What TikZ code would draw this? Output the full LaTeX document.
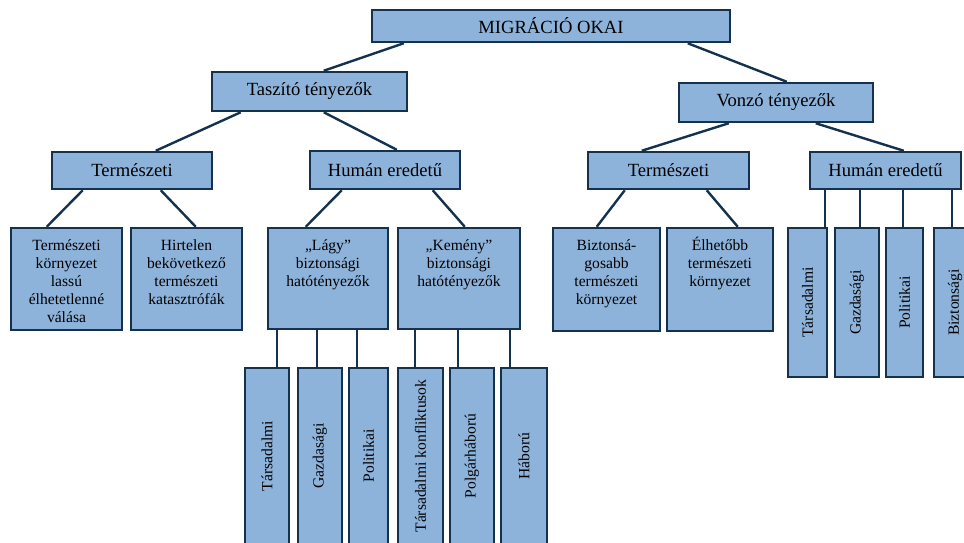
\documentclass[tikz,border=0pt]{standalone}
\usepackage{fontspec}
\setmainfont{Liberation Serif}
\definecolor{boxfill}{RGB}{142,179,219}
\definecolor{boxline}{RGB}{20,50,78}
\tikzset{
  bx/.style={draw=boxline, fill=boxfill, line width=2.5pt, inner sep=0pt, rectangle},
  conn/.style={draw=boxline, line width=2.4pt},
  big/.style={font=\fontsize{18.6}{21}\selectfont, inner sep=0pt},
  small/.style={font=\fontsize{15.6}{18}\selectfont, inner sep=0pt, align=center},
}
\begin{document}
\begin{tikzpicture}[x=1pt,y=-1pt]
\useasboundingbox (0,0) rectangle (964,542);
\clip (0,0) rectangle (964,542);
% level 0-2
\node[bx, minimum width=358pt, minimum height=32pt] (top) at (551,26) {};
\node[big] (toptx) at (top.center) {MIGRÁCIÓ OKAI};
\node[bx, minimum width=195pt, minimum height=39pt] (tasz) at (309.5,91.5) {};
\node[big] (tasztx) at (tasz.center) {Taszító tényezők};
\node[bx, minimum width=194pt, minimum height=39pt] (vonz) at (776,102.5) {};
\node[big] (vonztx) at (vonz.center) {Vonzó tényezők};
\node[bx, minimum width=160pt, minimum height=37pt] (lterm) at (132,170.5) {};
\node[big] (ltermtx) at (lterm.center) {Természeti};
\node[bx, minimum width=150pt, minimum height=38pt] (lhum) at (385,170) {};
\node[big] (lhumtx) at (lhum.center) {Humán eredetű};
\node[bx, minimum width=161pt, minimum height=37pt] (rterm) at (668.5,170.5) {};
\node[big] (rtermtx) at (rterm.center) {Természeti};
\node[bx, minimum width=151pt, minimum height=37pt] (rhum) at (885.5,170.5) {};
\node[big] (rhumtx) at (rhum.center) {Humán eredetű};
% level 3 boxes with top-aligned text
\node[bx, minimum width=111pt, minimum height=102pt] (lt1) at (66.5,279) {};
\node[small, anchor=north] (lt1tx) at ([yshift=-10.5pt]lt1.north) {\strut Természeti\\környezet\\lassú\\élhetetlenné\\válása};
\node[bx, minimum width=111pt, minimum height=102pt] (lt2) at (186.5,279) {};
\node[small, anchor=north] (lt2tx) at ([yshift=-10.5pt]lt2.north) {\strut Hirtelen\\bekövetkező\\természeti\\katasztrófák};
\node[bx, minimum width=120pt, minimum height=101pt] (lagy) at (328,278.5) {};
\node[small, anchor=north] (lagytx) at ([yshift=-10.5pt]lagy.north) {\strut „Lágy”\\biztonsági\\hatótényezők};
\node[bx, minimum width=122pt, minimum height=101pt] (kem) at (459,278.5) {};
\node[small, anchor=north] (kemtx) at ([yshift=-10.5pt]kem.north) {\strut „Kemény”\\biztonsági\\hatótényezők};
\node[bx, minimum width=107pt, minimum height=103pt] (b1) at (606.5,279.5) {};
\node[small, anchor=north] (b1tx) at ([yshift=-10.5pt]b1.north) {\strut Biztonsá-\\gosabb\\természeti\\környezet};
\node[bx, minimum width=106pt, minimum height=103pt] (e1) at (720,279.5) {};
\node[small, anchor=north] (e1tx) at ([yshift=-10.5pt]e1.north) {\strut Élhetőbb\\természeti\\környezet};
% right leaves
\node[bx, minimum width=39pt, minimum height=149pt] (rl1) at (807.5,302.5) {};
\node[small, rotate=90] (rl1tx) at (rl1.center) {Társadalmi};
\node[bx, minimum width=44pt, minimum height=149pt] (rl2) at (857,302.5) {};
\node[small, rotate=90] (rl2tx) at (rl2.center) {Gazdasági};
\node[bx, minimum width=37pt, minimum height=149pt] (rl3) at (904.5,302.5) {};
\node[small, rotate=90] (rl3tx) at (rl3.center) {Politikai};
\node[bx, minimum width=42pt, minimum height=149pt] (rl4) at (955,302.5) {};
\node[small, rotate=90] (rl4tx) at (rl4.center) {Biztonsági};
% left leaves
\node[bx, minimum width=44pt, minimum height=176pt] (ll1) at (267,456) {};
\node[small, rotate=90] (ll1tx) at (ll1.center) {Társadalmi};
\node[bx, minimum width=44pt, minimum height=176pt] (ll2) at (320,456) {};
\node[small, rotate=90] (ll2tx) at (ll2.center) {Gazdasági};
\node[bx, minimum width=39pt, minimum height=176pt] (ll3) at (368.5,456) {};
\node[small, rotate=90] (ll3tx) at (ll3.center) {Politikai};
\node[bx, minimum width=45pt, minimum height=176pt] (ll4) at (420.5,456) {};
\node[small, rotate=90] (ll4tx) at (ll4.center) {Társadalmi konfliktusok};
\node[bx, minimum width=44pt, minimum height=176pt] (ll5) at (472,456) {};
\node[small, rotate=90] (ll5tx) at (ll5.center) {Polgárháború};
\node[bx, minimum width=46pt, minimum height=176pt] (ll6) at (524,456) {};
\node[small, rotate=90] (ll6tx) at (ll6.center) {Háború};
% connectors
\draw[conn] ([xshift=33pt]top.south west) -- ([xshift=113pt]tasz.north west);
\draw[conn] ([xshift=317pt]top.south west) -- ([xshift=109pt]vonz.north west);
\draw[conn] ([xshift=30pt]tasz.south west) -- ([xshift=105pt]lterm.north west);
\draw[conn] ([xshift=113pt]tasz.south west) -- ([xshift=88pt]lhum.north west);
\draw[conn] ([xshift=51pt]vonz.south west) -- ([xshift=55pt]rterm.north west);
\draw[conn] ([xshift=138pt]vonz.south west) -- ([xshift=95pt]rhum.north west);
\draw[conn] ([xshift=32pt]lterm.south west) -- ([xshift=37pt]lt1.north west);
\draw[conn] ([xshift=110pt]lterm.south west) -- ([xshift=66pt]lt2.north west);
\draw[conn] ([xshift=33pt]lhum.south west) -- ([xshift=39pt]lagy.north west);
\draw[conn] ([xshift=124pt]lhum.south west) -- ([xshift=68pt]kem.north west);
\draw[conn] ([xshift=38pt]rterm.south west) -- ([xshift=45pt]b1.north west);
\draw[conn] ([xshift=120pt]rterm.south west) -- ([xshift=72pt]e1.north west);
\draw[conn] ([xshift=16pt]rhum.south west) -- ([xshift=38pt]rl1.north west);
\draw[conn] ([xshift=51pt]rhum.south west) -- ([xshift=26pt]rl2.north west);
\draw[conn] ([xshift=94pt]rhum.south west) -- ([xshift=18pt]rl3.north west);
\draw[conn] ([xshift=143pt]rhum.south west) -- ([xshift=19pt]rl4.north west);
\draw[conn] ([xshift=10pt]lagy.south west) -- ([xshift=33pt]ll1.north west);
\draw[conn] ([xshift=50pt]lagy.south west) -- ([xshift=20pt]ll2.north west);
\draw[conn] ([xshift=90pt]lagy.south west) -- ([xshift=9pt]ll3.north west);
\draw[conn] ([xshift=18pt]kem.south west) -- ([xshift=18pt]ll4.north west);
\draw[conn] ([xshift=61pt]kem.south west) -- ([xshift=9pt]ll5.north west);
\draw[conn] ([xshift=113pt]kem.south west) -- ([xshift=10pt]ll6.north west);
\end{tikzpicture}
\end{document}
